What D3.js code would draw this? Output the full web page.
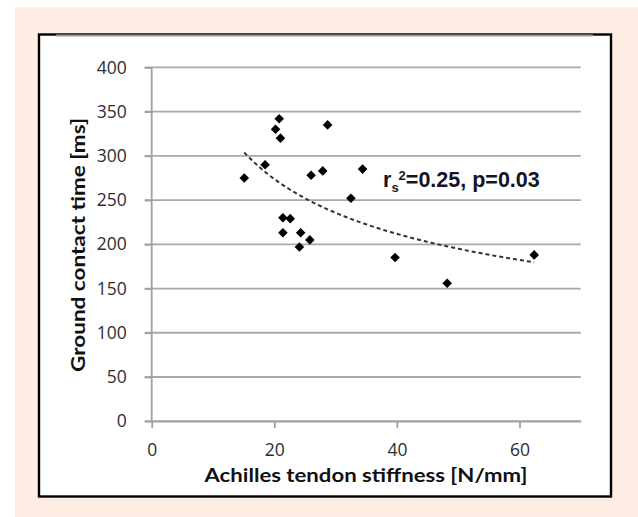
<!DOCTYPE html>
<html lang="en">
    <head>
        <meta charset="UTF-8">
        <script src="https://cdn.jsdelivr.net/npm/d3@7"></script>
        <title>Ground contact time vs Achilles tendon stiffness</title>
        <style>
            body { margin: 0; background: #fff; }
            .tick text { font-family: "Open Sans", sans-serif; font-size: 17.5px; fill: #2e2e2e; }
        </style>
    </head>
    <body>
        <script type="text/javascript">
            // Values
            var stiffness = [15.1, 18.5, 20.2, 20.8, 21.0, 21.4, 22.6, 21.4, 24.3, 24.1,
                             25.8, 26.0, 27.9, 28.7, 34.4, 32.5, 39.7, 48.2, 62.4];
            var contactTime = [275, 290, 330, 342, 320, 230, 229, 213, 213, 197,
                               205, 278, 283, 335, 285, 252, 185, 156, 188];
            var xTicks = [0, 20, 40, 60];
            var yTicks = [0, 50, 100, 150, 200, 250, 300, 350, 400];
            var xTitle = "Achilles tendon stiffness [N/mm]";
            var yTitle = "Ground contact time [ms]";

            var W = 638, H = 517;

            var svg = d3.select("body")
                .append("svg")
                .attr("width", W)
                .attr("height", H);

            // page background + framed chart area
            svg.append("rect")
                .attr("x", 15).attr("y", 7)
                .attr("width", W - 15).attr("height", H - 7)
                .attr("fill", "#fdede3");

            svg.append("rect")
                .attr("x", 39).attr("y", 34.5)
                .attr("width", 572).attr("height", 462)
                .attr("fill", "#fff")
                .attr("stroke", "#000")
                .attr("stroke-width", 2.4);

            svg.append("line")
                .attr("x1", 56).attr("x2", 593)
                .attr("y1", 35.6).attr("y2", 35.6)
                .attr("stroke", "#9a9a9a")
                .attr("stroke-width", 2);

            // scales
            var x = d3.scaleLinear().domain([0, 70]).range([151.7, 580.8]);
            var y = d3.scaleLinear().domain([0, 400]).range([421.2, 67.4]);

            // horizontal gridlines
            svg.append("g")
                .selectAll("line")
                .data(yTicks)
                .enter()
                .append("line")
                .attr("x1", x(0) - 7)
                .attr("x2", x(70))
                .attr("y1", function(d){ return y(d); })
                .attr("y2", function(d){ return y(d); })
                .attr("stroke", "#a8a8a8")
                .attr("stroke-width", 1.8);

            // axes
            var yAxis = svg.append("g")
                .attr("transform", "translate(" + x(0) + ",0)")
                .call(d3.axisLeft(y).tickValues(yTicks).tickSize(7).tickPadding(18).tickSizeOuter(0));

            var xAxis = svg.append("g")
                .attr("transform", "translate(0," + y(0) + ")")
                .call(d3.axisBottom(x).tickValues(xTicks).tickSize(7).tickPadding(15).tickSizeOuter(0));

            [xAxis, yAxis].forEach(function(a){
                a.select(".domain").attr("stroke", "#a0a0a0").attr("stroke-width", 1.8);
                a.selectAll(".tick line").attr("stroke", "#a0a0a0").attr("stroke-width", 1.8);
            });
            yAxis.select(".domain").attr("d", "M0," + y(400) + "V" + y(0));

            // power trendline fitted in log-log space (as the spreadsheet does)
            var lx = stiffness.map(Math.log);
            var ly = contactTime.map(Math.log);
            var mx = d3.mean(lx), my = d3.mean(ly);
            var b = d3.sum(lx, function(v, i){ return (v - mx) * (ly[i] - my); }) /
                    d3.sum(lx, function(v){ return (v - mx) * (v - mx); });
            var a = Math.exp(my - b * mx);
            var xs = d3.range(d3.min(stiffness), d3.max(stiffness), 0.5).concat([d3.max(stiffness)]);

            svg.append("path")
                .datum(xs)
                .attr("fill", "none")
                .attr("stroke", "#333")
                .attr("stroke-width", 2)
                .attr("stroke-dasharray", "4,3")
                .attr("d", d3.line()
                    .x(function(d){ return x(d); })
                    .y(function(d){ return y(a * Math.pow(d, b)); }));

            // diamonds
            svg.append("g")
                .selectAll("path")
                .data(stiffness)
                .enter()
                .append("path")
                .attr("d", d3.symbol().type(d3.symbolSquare).size(46))
                .attr("transform", function(d, i){
                    return "translate(" + x(d) + "," + y(contactTime[i]) + ") rotate(45)";
                })
                .attr("fill", "#000");

            // axis titles
            svg.append("text")
                .attr("x", 366)
                .attr("y", 482)
                .attr("text-anchor", "middle")
                .attr("textLength", 323)
                .attr("lengthAdjust", "spacingAndGlyphs")
                .style("font-family", "Lato, sans-serif")
                .style("font-weight", "bold")
                .style("font-size", "19px")
                .attr("fill", "#111")
                .text(xTitle);

            svg.append("text")
                .attr("transform", "translate(84.5,245) rotate(-90)")
                .attr("text-anchor", "middle")
                .attr("textLength", 254)
                .attr("lengthAdjust", "spacingAndGlyphs")
                .style("font-family", "Lato, sans-serif")
                .style("font-weight", "bold")
                .style("font-size", "19px")
                .attr("fill", "#111")
                .text(yTitle);

            // correlation annotation
            var note = svg.append("text")
                .attr("x", 383)
                .attr("y", 186.5)
                .style("font-family", "'Liberation Sans', Arial, sans-serif")
                .style("font-weight", "bold")
                .style("font-size", "21.5px")
                .attr("fill", "#141428");
            note.append("tspan").text("r");
            note.append("tspan").attr("dy", 5).style("font-size", "13px").text("s");
            note.append("tspan").attr("dy", -12).style("font-size", "13px").text("2");
            note.append("tspan").attr("dy", 7).text("=0.25, p=0.03");
        </script>
    </body>
</html>
